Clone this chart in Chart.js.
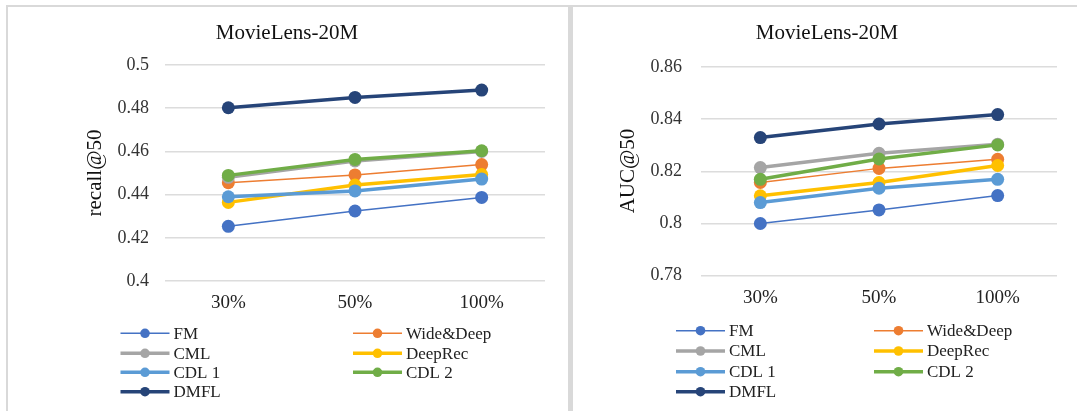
<!DOCTYPE html>
<html>
<head>
<meta charset="utf-8">
<script src="https://cdn.jsdelivr.net/npm/chart.js@4.4.0/dist/chart.umd.min.js"></script>
<style>
  html, body { margin: 0; padding: 0; background: #fff; }
  #page { position: relative; width: 1077px; height: 411px; overflow: hidden; }
  .rule { position: absolute; background: #d9d9d9; }
  canvas { position: absolute; top: 0; }
</style>
</head>
<body>
<div id="page">
  <div class="rule" style="left:6px;top:5px;width:1071px;height:2px"></div>
  <div class="rule" style="left:6px;top:5px;width:2px;height:406px"></div>
  <div class="rule" style="left:568px;top:5px;width:5px;height:406px"></div>
  <canvas id="recallChart" width="568" height="411" style="left:0"></canvas>
  <canvas id="aucChart" width="504" height="411" style="left:573px"></canvas>
</div>
<script>
  // training data share
  const categories = ['30%', '50%', '100%'];
  const methods = ['FM', 'Wide&Deep', 'CML', 'DeepRec', 'CDL 1', 'CDL 2', 'DMFL'];

  // recall@50 per method
  const recallFM       = [0.4253, 0.4324, 0.4387];
  const recallWideDeep = [0.4455, 0.4491, 0.4539];
  const recallCML      = [0.4480, 0.4556, 0.4600];
  const recallDeepRec  = [0.4364, 0.4444, 0.4493];
  const recallCDL1     = [0.4390, 0.4417, 0.4472];
  const recallCDL2     = [0.4489, 0.4563, 0.4603];
  const recallDMFL     = [0.4802, 0.4850, 0.4884];
  const recallTicks    = [0.4, 0.42, 0.44, 0.46, 0.48, 0.5];

  // AUC@50 per method
  const aucFM       = [0.8000, 0.8052, 0.8107];
  const aucWideDeep = [0.8157, 0.8211, 0.8246];
  const aucCML      = [0.8214, 0.8269, 0.8303];
  const aucDeepRec  = [0.8106, 0.8157, 0.8222];
  const aucCDL1     = [0.8080, 0.8135, 0.8169];
  const aucCDL2     = [0.8169, 0.8247, 0.8301];
  const aucDMFL     = [0.8329, 0.8381, 0.8417];
  const aucTicks    = [0.78, 0.8, 0.82, 0.84, 0.86];

  const palette = ['#4472C4', '#ED7D31', '#A5A5A5', '#FFC000', '#5B9BD5', '#70AD47', '#264478'];
  const FONT = '"Liberation Serif", "Times New Roman", serif';

  function buildDatasets(series) {
    return series.map((data, i) => ({
      label: methods[i],
      data: data,
      borderColor: palette[i],
      backgroundColor: palette[i],
      borderWidth: i < 2 ? 1.5 : 3.5,
      pointRadius: 6.5,
      pointHoverRadius: 6.5,
      pointBorderWidth: 0,
      tension: 0,
      order: series.length - i   // later series sit on top
    }));
  }

  // chart title, rotated axis title and the two-column legend
  const panelText = {
    id: 'panelText',
    afterDraw(chart, args, o) {
      const ctx = chart.ctx;
      ctx.save();
      ctx.fillStyle = '#111';
      ctx.textAlign = 'center';
      ctx.textBaseline = 'middle';
      ctx.font = '21px ' + FONT;
      ctx.fillText(o.title, o.titleX, o.titleY);

      ctx.save();
      ctx.translate(o.axisX, o.axisY);
      ctx.rotate(-Math.PI / 2);
      ctx.font = '21px ' + FONT;
      ctx.fillText(o.axisTitle, 0, 0);
      ctx.restore();

      ctx.textAlign = 'left';
      ctx.font = '17px ' + FONT;
      chart.data.datasets.forEach((ds, i) => {
        const x0 = o.cols[i % 2];
        const y = o.rows[Math.floor(i / 2)];
        ctx.strokeStyle = ds.borderColor;
        ctx.lineWidth = ds.borderWidth;
        ctx.beginPath();
        ctx.moveTo(x0, y);
        ctx.lineTo(x0 + 49, y);
        ctx.stroke();
        ctx.fillStyle = ds.backgroundColor;
        ctx.beginPath();
        ctx.arc(x0 + 24.5, y, 4.8, 0, Math.PI * 2);
        ctx.fill();
        ctx.fillStyle = '#222';
        ctx.fillText(ds.label, x0 + 53, y + 1);
      });
      ctx.restore();
    }
  };

  function makeChart(id, series, ticks, geo, text) {
    const ctx = document.getElementById(id).getContext('2d');
    return new Chart(ctx, {
      type: 'line',
      data: { labels: categories, datasets: buildDatasets(series) },
      options: {
        responsive: false,
        animation: false,
        layout: { padding: geo.padding },
        plugins: {
          legend: { display: false },
          tooltip: { enabled: false },
          panelText: text
        },
        scales: {
          x: {
            offset: true,
            grid: { display: false },
            border: { display: false },
            ticks: { color: '#222', font: { family: FONT, size: 19 }, padding: geo.xPad },
            afterFit(scale) { scale.height = 40; }
          },
          y: {
            min: ticks[0],
            max: ticks[ticks.length - 1],
            grid: { color: '#dcdcdc', lineWidth: 1.5, drawTicks: false },
            border: { display: false },
            ticks: {
              color: '#333',
              padding: geo.yPad,
              font: { family: FONT, size: 18 },
              callback: v => String(+Number(v).toFixed(2))
            },
            afterBuildTicks(scale) { scale.ticks = ticks.map(v => ({ value: v })); },
            afterFit(scale) { scale.width = geo.yWidth; }
          }
        }
      },
      plugins: [panelText]
    });
  }

  makeChart('recallChart',
    [recallFM, recallWideDeep, recallCML, recallDeepRec, recallCDL1, recallCDL2, recallDMFL],
    recallTicks,
    { padding: { top: 65, right: 23, bottom: 90, left: 0 }, yWidth: 165, yPad: 16, xPad: 3 },
    { title: 'MovieLens-20M', titleX: 287, titleY: 33.5,
      axisTitle: 'recall@50', axisX: 95, axisY: 173,
      cols: [120.5, 353], rows: [333.3, 353.3, 372.3, 391.7] });

  makeChart('aucChart',
    [aucFM, aucWideDeep, aucCML, aucDeepRec, aucCDL1, aucCDL2, aucDMFL],
    aucTicks,
    { padding: { top: 66.8, right: 20, bottom: 95.3, left: 0 }, yWidth: 128, yPad: 19, xPad: 3 },
    { title: 'MovieLens-20M', titleX: 254, titleY: 33.5,
      axisTitle: 'AUC@50', axisX: 55.4, axisY: 171,
      cols: [103, 301], rows: [330.7, 351, 371.7, 391.7] });
</script>
</body>
</html>
